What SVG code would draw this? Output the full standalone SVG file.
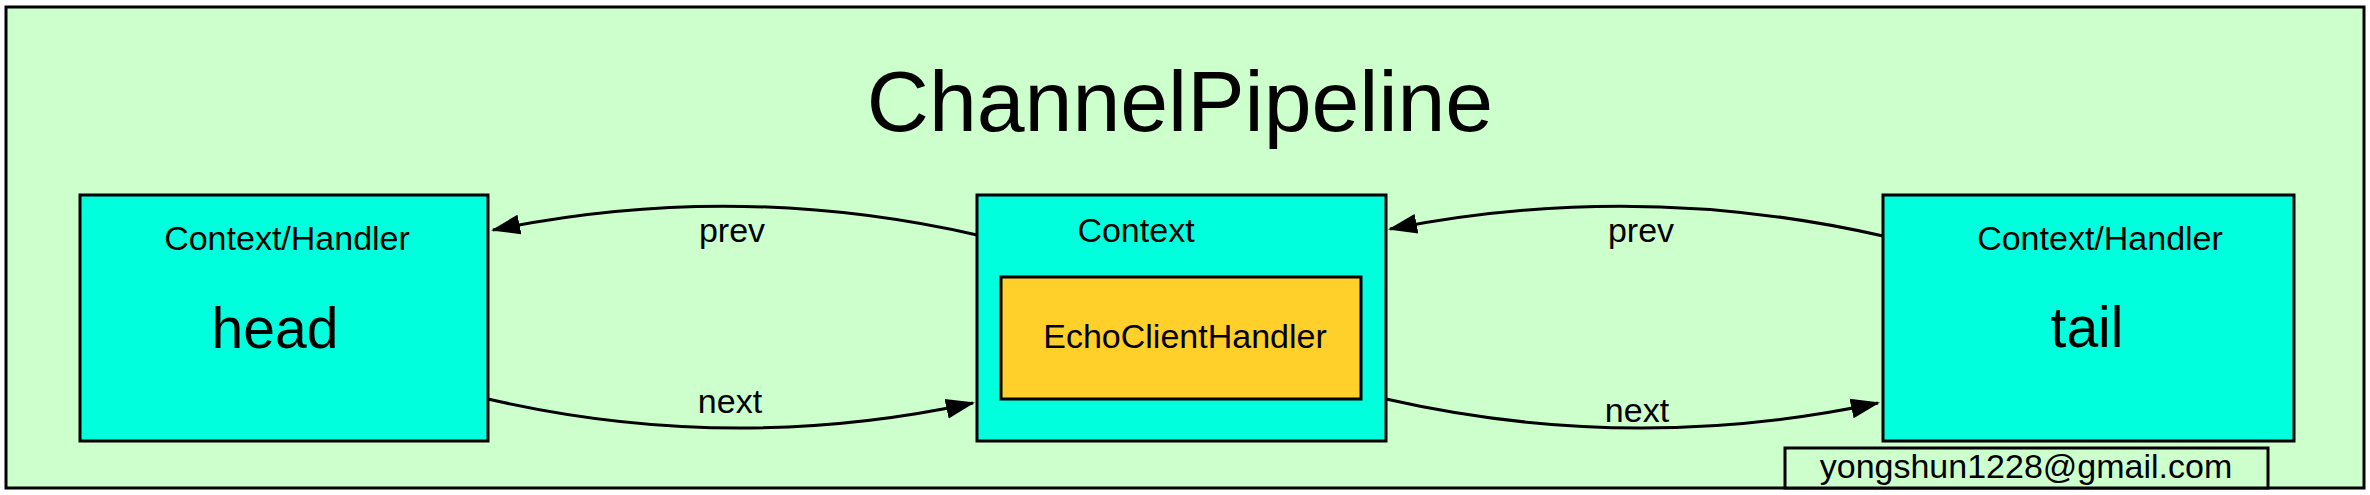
<svg xmlns="http://www.w3.org/2000/svg" width="2370" height="495" viewBox="0 0 2370 495">
<style>
text{font-family:"Liberation Sans",Arial,Helvetica,sans-serif;fill:#000}
.box{fill:#00FFDD;stroke:#000;stroke-width:3}
.inner{fill:#FFD02A;stroke:#000;stroke-width:3}
.lbl{font-size:34px;text-anchor:middle}
.big{font-size:57px;text-anchor:middle}
.edge{fill:none;stroke:#000;stroke-width:3}
</style>
<defs>
<marker id="arr" markerUnits="userSpaceOnUse" markerWidth="30" markerHeight="22" viewBox="0 0 30 22" refX="27" refY="11" orient="auto">
<path d="M0,1 L29,11 L0,21 z" fill="#000"/>
</marker>
</defs>
<g id="pipeline">
<rect x="6" y="7" width="2358" height="481" fill="#CCFFCC" stroke="#000" stroke-width="3"/>
<text x="1180" y="131" font-size="86" text-anchor="middle">ChannelPipeline</text>
</g>
<g id="head">
<rect class="box" x="80" y="195" width="408" height="246"/>
<text class="lbl" x="287" y="250" font-size="35">Context/Handler</text>
<text class="big" x="275" y="348">head</text>
</g>
<g id="context">
<rect class="box" x="977" y="195" width="409" height="246"/>
<text class="lbl" x="1136" y="242">Context</text>
</g>
<g id="echo">
<rect class="inner" x="1001" y="277" width="360" height="122"/>
<text class="lbl" x="1185" y="348">EchoClientHandler</text>
</g>
<g id="tail">
<rect class="box" x="1883" y="195" width="411" height="246"/>
<text class="lbl" x="2100" y="250">Context/Handler</text>
<text class="big" x="2087" y="347">tail</text>
</g>
<g id="email">
<rect x="1785" y="448" width="483" height="40" fill="#CCFFCC" stroke="#000" stroke-width="3"/>
<text class="lbl" x="2026" y="478">yongshun1228@gmail.com</text>
</g>
<g id="connectors">
<path class="edge" d="M977,235 Q735,180 493,230" marker-end="url(#arr)"/>
<text class="lbl" x="732" y="242">prev</text>
<path class="edge" d="M488,399 Q731,455 973,403" marker-end="url(#arr)"/>
<text class="lbl" x="730" y="413">next</text>
<path class="edge" d="M1883,236 Q1637,180 1390,229" marker-end="url(#arr)"/>
<text class="lbl" x="1641" y="242">prev</text>
<path class="edge" d="M1386,399 Q1632,455 1878,403" marker-end="url(#arr)"/>
<text class="lbl" x="1637" y="422">next</text>
</g>
</svg>
